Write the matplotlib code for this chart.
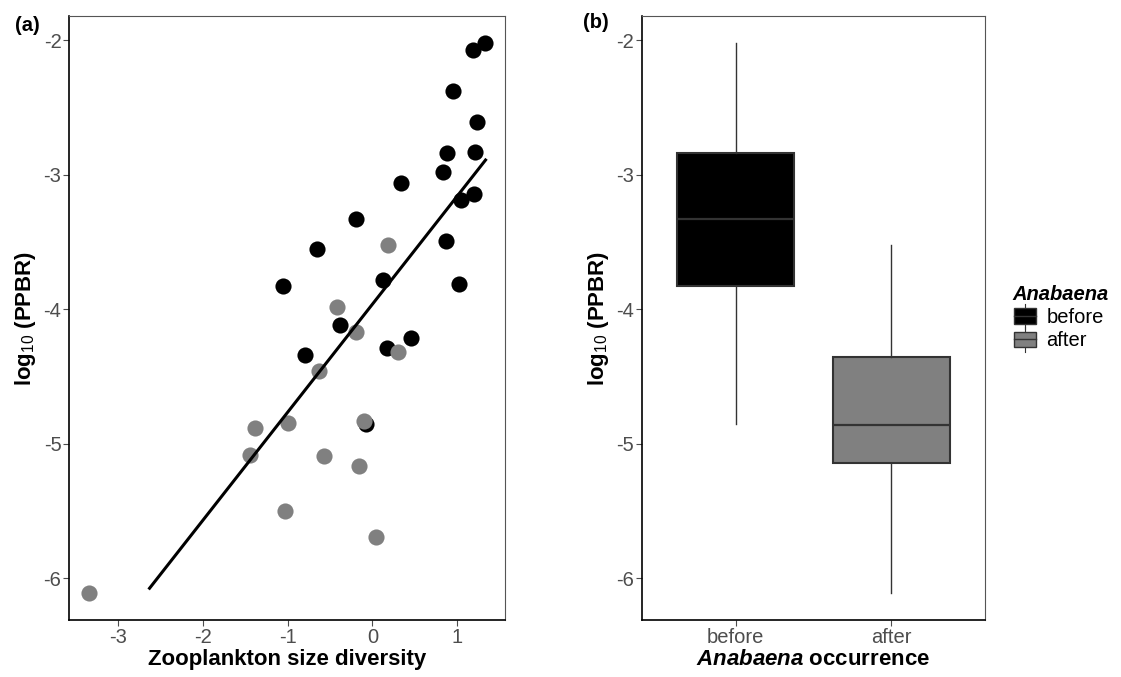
#!/usr/bin/env python3
"""
PPBR vs zooplankton size diversity, and PPBR before/after Anabaena occurrence
"""

import matplotlib
matplotlib.use('Agg')
import matplotlib.pyplot as plt
from matplotlib.legend_handler import HandlerBase
from matplotlib.patches import Rectangle
from matplotlib.lines import Line2D
import numpy as np

plt.rcParams['font.family'] = ['Liberation Sans', 'DejaVu Sans']
plt.rcParams['axes.unicode_minus'] = False
plt.rcParams['mathtext.fontset'] = 'custom'
plt.rcParams['mathtext.rm'] = 'Liberation Sans'
plt.rcParams['mathtext.it'] = 'Liberation Sans:bold:italic'
plt.rcParams['mathtext.bf'] = 'Liberation Sans:bold'

# Samples before Anabaena occurrence
before_x = [1.33, 1.19, 0.95, 1.24, 0.875, 1.21, 0.835, 0.34, 1.04, 1.20, -0.19,
            -0.65, 0.865, -1.05, 0.12, 1.02, -0.38, 0.46, 0.17, -0.79, -0.07]
before_y = [-2.02, -2.07, -2.38, -2.61, -2.84, -2.83, -2.98, -3.06, -3.19, -3.145, -3.33,
            -3.55, -3.49, -3.83, -3.78, -3.81, -4.12, -4.21, -4.285, -4.34, -4.85]

# Samples after Anabaena occurrence
after_x = [0.18, -0.42, -0.19, 0.305, -0.63, -0.095, -1.385, -1.0, -1.45, -0.57,
           -0.16, -1.03, 0.04, -3.35]
after_y = [-3.52, -3.98, -4.17, -4.32, -4.46, -4.83, -4.88, -4.845, -5.08, -5.09,
           -5.165, -5.50, -5.69, -6.11]

# Fitted regression line
fit_slope = 0.803
fit_intercept = -3.962
fit_range = [-2.63, 1.335]

groups = ['before', 'after']
group_colors = ['#000000', '#808080']

TICK_COLOR = '#4D4D4D'
EDGE = '#333333'
TICK_SIZE = 14.5
TITLE_SIZE = 16


class BoxKeyHandler(HandlerBase):
    """Legend key drawn as a tiny boxplot"""

    def create_artists(self, legend, orig_handle, xdescent, ydescent,
                       width, height, fontsize, trans):
        cx = width / 2 - xdescent
        w = width * 0.85
        y0 = height * 0.12 - ydescent
        y1 = height * 0.88 - ydescent
        box = Rectangle((cx - w / 2, y0), w, y1 - y0,
                        facecolor=orig_handle.get_facecolor(), edgecolor=EDGE,
                        linewidth=1.0, transform=trans)
        med = Line2D([cx - w / 2, cx + w / 2], [(y0 + y1) / 2] * 2,
                     color=EDGE, linewidth=1.0, transform=trans)
        wh1 = Line2D([cx, cx], [y1, height * 1.1 - ydescent],
                     color=EDGE, linewidth=0.8, transform=trans)
        wh2 = Line2D([cx, cx], [-height * 0.1 - ydescent, y0],
                     color=EDGE, linewidth=0.8, transform=trans)
        return [wh1, wh2, box, med]


def style_axes(ax):
    for side in ['top', 'right']:
        ax.spines[side].set_color('#555555')
        ax.spines[side].set_linewidth(0.8)
    for side in ['left', 'bottom']:
        ax.spines[side].set_color('black')
        ax.spines[side].set_linewidth(1.2)
    ax.tick_params(axis='both', direction='out', length=4, width=0.8, pad=1.5,
                   color=TICK_COLOR, labelcolor=TICK_COLOR, labelsize=TICK_SIZE)


fig = plt.figure(figsize=(11.21, 6.77), dpi=100)

# Panel (a): scatter with regression line
ax1 = fig.add_axes([0.0616, 0.0842, 0.389, 0.892])
ax1.scatter(before_x, before_y, s=135, color=group_colors[0], linewidths=0, zorder=2)
ax1.scatter(after_x, after_y, s=135, color=group_colors[1], linewidths=0, zorder=3)
fx = np.array(fit_range)
ax1.plot(fx, fit_intercept + fit_slope * fx, color='black', linewidth=2.2, zorder=4)
ax1.set_xlim(-3.58, 1.566)
ax1.set_ylim(-6.31, -1.82)
ax1.set_xticks([-3, -2, -1, 0, 1])
ax1.set_yticks([-6, -5, -4, -3, -2])
ax1.set_xlabel('Zooplankton size diversity', fontsize=TITLE_SIZE, fontweight='bold', labelpad=2)
ax1.set_ylabel(r'log$_{10}$ (PPBR)', fontsize=TITLE_SIZE, fontweight='bold', labelpad=4)
style_axes(ax1)
fig.text(0.013, 0.963, '(a)', fontsize=14.5, fontweight='bold', va='center')

# Panel (b): boxplots before/after
ax2 = fig.add_axes([0.5727, 0.0842, 0.306, 0.892])
bp = ax2.boxplot([before_y, after_y], positions=[1, 2], widths=0.75, patch_artist=True,
                 showfliers=False, showcaps=False,
                 medianprops=dict(color=EDGE, linewidth=1.6),
                 whiskerprops=dict(color=EDGE, linewidth=1.0),
                 boxprops=dict(edgecolor=EDGE, linewidth=1.5))
for patch, c in zip(bp['boxes'], group_colors):
    patch.set_facecolor(c)
ax2.set_xlim(0.4, 2.6)
ax2.set_ylim(-6.31, -1.82)
ax2.set_xticks([1, 2])
ax2.set_xticklabels(groups)
ax2.set_yticks([-6, -5, -4, -3, -2])
ax2.set_xlabel(r'$\mathit{Anabaena}$ occurrence', fontsize=TITLE_SIZE, fontweight='bold', labelpad=2)
ax2.set_ylabel(r'log$_{10}$ (PPBR)', fontsize=TITLE_SIZE, fontweight='bold', labelpad=4)
style_axes(ax2)
fig.text(0.520, 0.967, '(b)', fontsize=14.5, fontweight='bold', va='center')

# Legend
handles = [Rectangle((0, 0), 1, 1, facecolor=c) for c in group_colors]
leg = fig.legend(handles, groups, handler_map={Rectangle: BoxKeyHandler()},
                 loc='upper left', bbox_to_anchor=(0.894, 0.594), frameon=False,
                 title='Anabaena', fontsize=TICK_SIZE, handlelength=1.25, handleheight=1.2,
                 handletextpad=0.45, labelspacing=0.1, borderpad=0)
leg.get_title().set_fontweight('bold')
leg.get_title().set_fontstyle('italic')
leg.get_title().set_fontsize(TICK_SIZE)
leg._legend_box.align = 'left'

fig.savefig('out.png', dpi=100)
